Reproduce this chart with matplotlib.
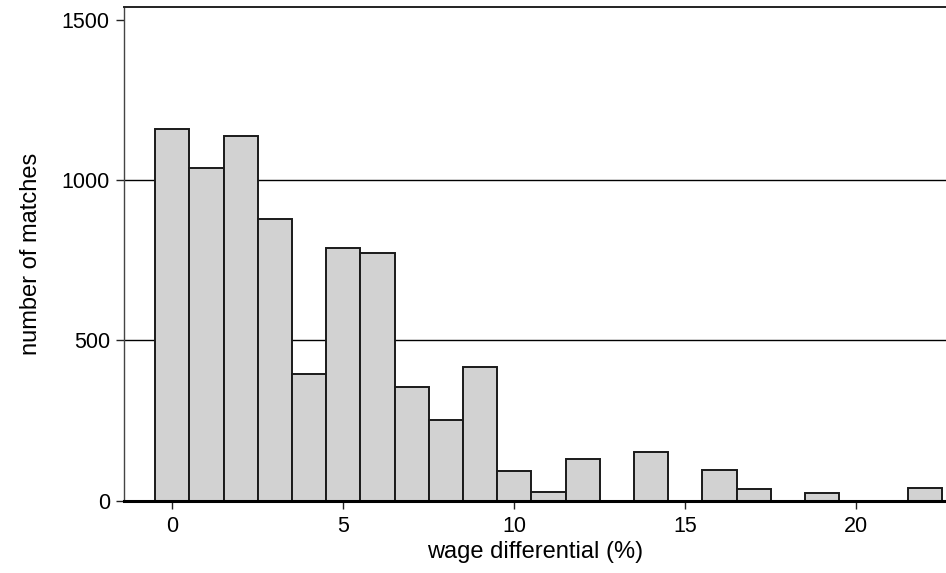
import matplotlib
matplotlib.use("Agg")
import matplotlib.pyplot as plt

# histogram of wage differentials, one bin per percentage point
wage_diff = list(range(23))
n_matches = [1159, 1039, 1136, 880, 396, 788, 772, 356, 253, 416,
             93, 28, 131, 0, 151, 0, 96, 35, 0, 24, 0, 0, 40]

x_ticks = [0, 5, 10, 15, 20]
y_ticks = [0, 500, 1000, 1500]

plt.rcParams["font.family"] = ["Liberation Sans", "DejaVu Sans"]

fig = plt.figure(figsize=(9.46, 5.73), dpi=100)
ax = fig.add_axes([0.1308, 0.1262, 0.8692, 0.8611])

for y in (500, 1000):
    ax.axhline(y, color="black", linewidth=1.0, zorder=1)

ax.bar(
    wage_diff,
    n_matches,
    width=1.0,
    color="#d2d2d2",
    edgecolor="#1a1a1a",
    linewidth=1.4,
    zorder=2,
)

ax.set_xlim(-1.42, 22.62)
ax.set_ylim(0, 1539)
ax.set_xticks(x_ticks)
ax.set_yticks(y_ticks)
ax.tick_params(axis="both", labelsize=15.5, length=6, width=1.0, color="#222222")
ax.tick_params(axis="y", pad=4)
ax.tick_params(axis="x", pad=5)

ax.spines["right"].set_visible(False)
ax.spines["top"].set_linewidth(1.4)
ax.spines["top"].set_color("#222222")
ax.spines["left"].set_linewidth(1.0)
ax.spines["left"].set_color("#444444")
ax.spines["bottom"].set_linewidth(2.2)
ax.spines["bottom"].set_color("black")
ax.spines["bottom"].set_zorder(3)

ax.set_xlabel("wage differential (%)", fontsize=17, labelpad=3)
ax.set_ylabel("number of matches", fontsize=17, labelpad=14)

fig.savefig("out.png", dpi=100)
